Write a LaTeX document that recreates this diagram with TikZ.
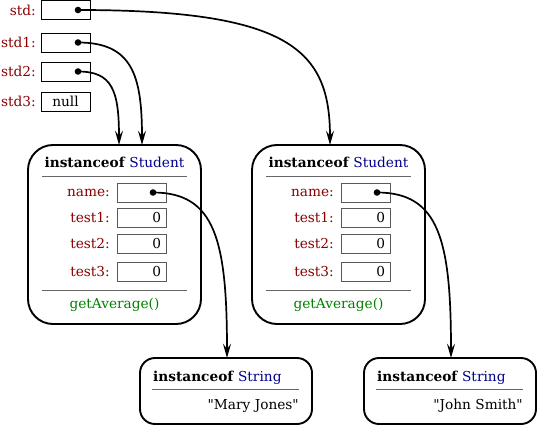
\documentclass[tikz,border=0pt]{standalone}
\usepackage{fontspec}
\setmainfont{DejaVu Serif}
\usetikzlibrary{arrows.meta,positioning}
\definecolor{fieldred}{HTML}{8B0000}
\definecolor{typeblue}{HTML}{00008B}
\definecolor{methodgreen}{HTML}{008000}
\tikzset{
	% ------- every something
	every node/.style={
		font=\fontsize{13.7}{16}\selectfont,
	},
	% ------- custom
	var box/.style={
		draw, line width=0.8pt,
		minimum width=49pt, minimum height=19pt, inner sep=0pt,
	},
	field box/.style={
		draw=black!65, line width=0.8pt,
		minimum width=49pt, minimum height=19pt, inner sep=0pt,
	},
	var label/.style={
		anchor=east, text=fieldred, inner sep=0pt,
	},
	object/.style={
		draw, line width=1.9pt, rounded corners=25pt,
	},
	string object/.style={
		draw, line width=1.9pt, rounded corners=15pt,
	},
	separator/.style={
		draw=black!60, line width=1pt,
	},
	pointer/.style={
		line width=1.7pt,
		-{Stealth[length=5mm, width=2.8mm, inset=1.8mm]},
	},
}

\begin{document}
\begin{tikzpicture}[x=1pt, y=-1pt]

	\useasboundingbox (0,0) rectangle (537,425);

% variables %{{{1

	\node[var box] (std) at (65.5,10) {};
	\node[var box] (std1) at (65.5,42.5) {};
	\node[var box] (std2) at (65.5,71.5) {};
	\node[var box] (std3) at (65.5,101.5) {null};

	\node[var label] at (36,10) {std:};
	\node[var label] at (36,42.5) {std1:};
	\node[var label] at (36,71.5) {std2:};
	\node[var label] at (36,101.5) {std3:};

	\coordinate (p std) at (78,10);
	\coordinate (p std1) at (78,42.5);
	\coordinate (p std2) at (78,71.5);

% student objects %{{{1

	\foreach \i/\dx in {1/0, 2/224} {
		\begin{scope}[xshift=\dx]
			\draw[object] (28,145) rectangle (201,324);
			\node[font=\fontsize{13.7}{16}\selectfont\bfseries] (stu\i) at (114.5,162)
				{instanceof \textcolor{typeblue}{\mdseries Student}};
			\draw[separator] (42,176) -- (187,176);
			\draw[separator] (42,290) -- (187,290);

			\node[field box] (name\i) at (141.5,192.5) {};
			\node[field box] (testA\i) at (141.5,217.5) {};
			\node[field box] (testB\i) at (141.5,243.5) {};
			\node[field box] (testC\i) at (141.5,271.5) {};

			\node[var label] at (110,192.5) {name:};
			\node[var label] at (110,217.5) {test1:};
			\node[var label] at (110,243.5) {test2:};
			\node[var label] at (110,271.5) {test3:};

			\node[anchor=east, inner sep=0pt] at ([xshift=-5pt]testA\i.east) {0};
			\node[anchor=east, inner sep=0pt] at ([xshift=-5pt]testB\i.east) {0};
			\node[anchor=east, inner sep=0pt] at ([xshift=-5pt]testC\i.east) {0};

			\node[text=methodgreen] at (114.5,305) {getAverage()};

			\coordinate (p name\i) at (153,192.5);
		\end{scope}
	}

% string objects %{{{1

	\foreach \i/\dx/\str in {1/0/Mary Jones, 2/224/John Smith} {
		\begin{scope}[xshift=\dx]
			\draw[string object] (140,358) rectangle (312,424);
			\node[anchor=west, inner sep=0pt, font=\fontsize{13.7}{16}\selectfont\bfseries] (str\i) at (153,378)
				{instanceof \textcolor{typeblue}{\mdseries String}};
			\draw[separator] (152,389) -- (299,389);
			\node[anchor=east, inner sep=0pt] at (299,406) {\textquotedbl\str\textquotedbl};
		\end{scope}
	}

% targets %{{{1

	\coordinate (t std) at (330,145);
	\coordinate (t std1) at (142,145);
	\coordinate (t std2) at (119,145);
	\coordinate (t name1) at (227,358);
	\coordinate (t name2) at (451,358);

% pointers %{{{1

	\draw[pointer] (p std) .. controls (290,10) and (330,50) .. (t std);
	\draw[pointer] (p std1) .. controls (132,42.5) and (142,75) .. (t std1);
	\draw[pointer] (p std2) .. controls (112,71.5) and (119,90) .. (t std2);
	\draw[pointer] (p name1) .. controls (215,192.5) and (227,240) .. (t name1);
	\draw[pointer] (p name2) .. controls (439,192.5) and (451,240) .. (t name2);

% dots %{{{1

	\foreach \p in {p std, p std1, p std2, p name1, p name2}
		\fill (\p) circle (3.3pt);

% closing %{{{1

\end{tikzpicture}
\end{document}
